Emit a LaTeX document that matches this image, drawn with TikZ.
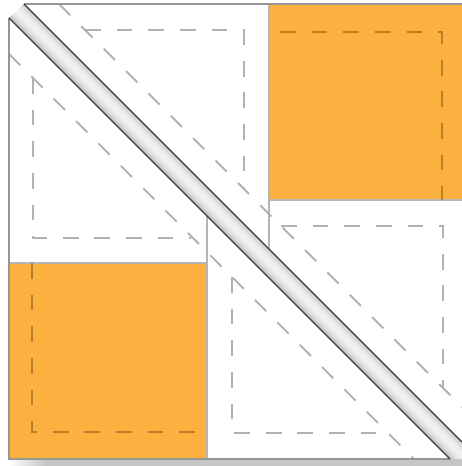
\documentclass[tikz,border=0pt]{standalone}
\definecolor{quiltorange}{RGB}{251,176,64}
\definecolor{seamgray}{RGB}{178,178,178}
\definecolor{seambrown}{RGB}{186,126,40}
\definecolor{edgegray}{RGB}{150,150,150}
\definecolor{diagdark}{RGB}{60,60,60}
\tikzset{
  seam/.style={draw=seamgray, line width=1.05pt, dash pattern=on 9pt off 9pt},
  seamorange/.style={seam, draw=seambrown},
  piece/.style={draw=edgegray, line width=0.7pt},
}
\begin{document}
\begin{tikzpicture}[x=0.02cm, y=-0.02cm]
    \useasboundingbox (0,0) rectangle (462,466);
    % 对角缝隙的阴影
    \begin{scope}
        \clip (24,4) -- (462,442) -- (462,459) -- (450,459) -- (9,18) -- cycle;
        \foreach \c in {-21,...,10} {
            \pgfmathsetmacro\p{10+40*((\c+20)/14.5-1)^2}
            \draw[gray!\p, line width=0.9pt] (0,\c) -- (480,480+\c);
        }
    \end{scope}

    % 底部阴影
    \shade[left color=white, right color=gray!45] (9,459) rectangle (45,466);
    \fill[gray!45] (45,459) rectangle (462,466);

    % 下半三角
    \fill[white] (9,18) -- (9,459) -- (450,459) -- cycle;
    \fill[quiltorange] (9,263) rectangle (207,459);
    % 上半三角
    \fill[white] (24,4) -- (462,4) -- (462,442) -- cycle;
    \fill[quiltorange] (269,4) rectangle (462,200);

    % 分块线
    \draw[piece, draw=edgegray!70] (9,263) -- (207,263) (207,216) -- (207,459);
    \draw[piece, draw=edgegray!70] (269,4) -- (269,249) (269,200) -- (462,200);

    % 缝份虚线
    \draw[seam] (9,54) -- (414,459);
    \draw[seam] (59,4) -- (462,407);
    \draw[seam] (33,78) -- (33,238) -- (191,238);
    \draw[seam] (232,277) -- (232,433) -- (388,433);
    \draw[seam] (85,30) -- (244,30) -- (244,189);
    \draw[seam] (281,226) -- (443,226) -- (443,388);
    \draw[seamorange] (32,263) -- (32,432) -- (197,432);
    \draw[seamorange] (280,32) -- (442,32) -- (442,200);

    % 外框
    \draw[piece] (9,18) -- (9,459) -- (450,459);
    \draw[piece] (24,4) -- (462,4);
    \draw[diagdark, line width=0.75pt] (9,18) -- (450,459) (24,4) -- (462,442);
\end{tikzpicture}
\end{document}
